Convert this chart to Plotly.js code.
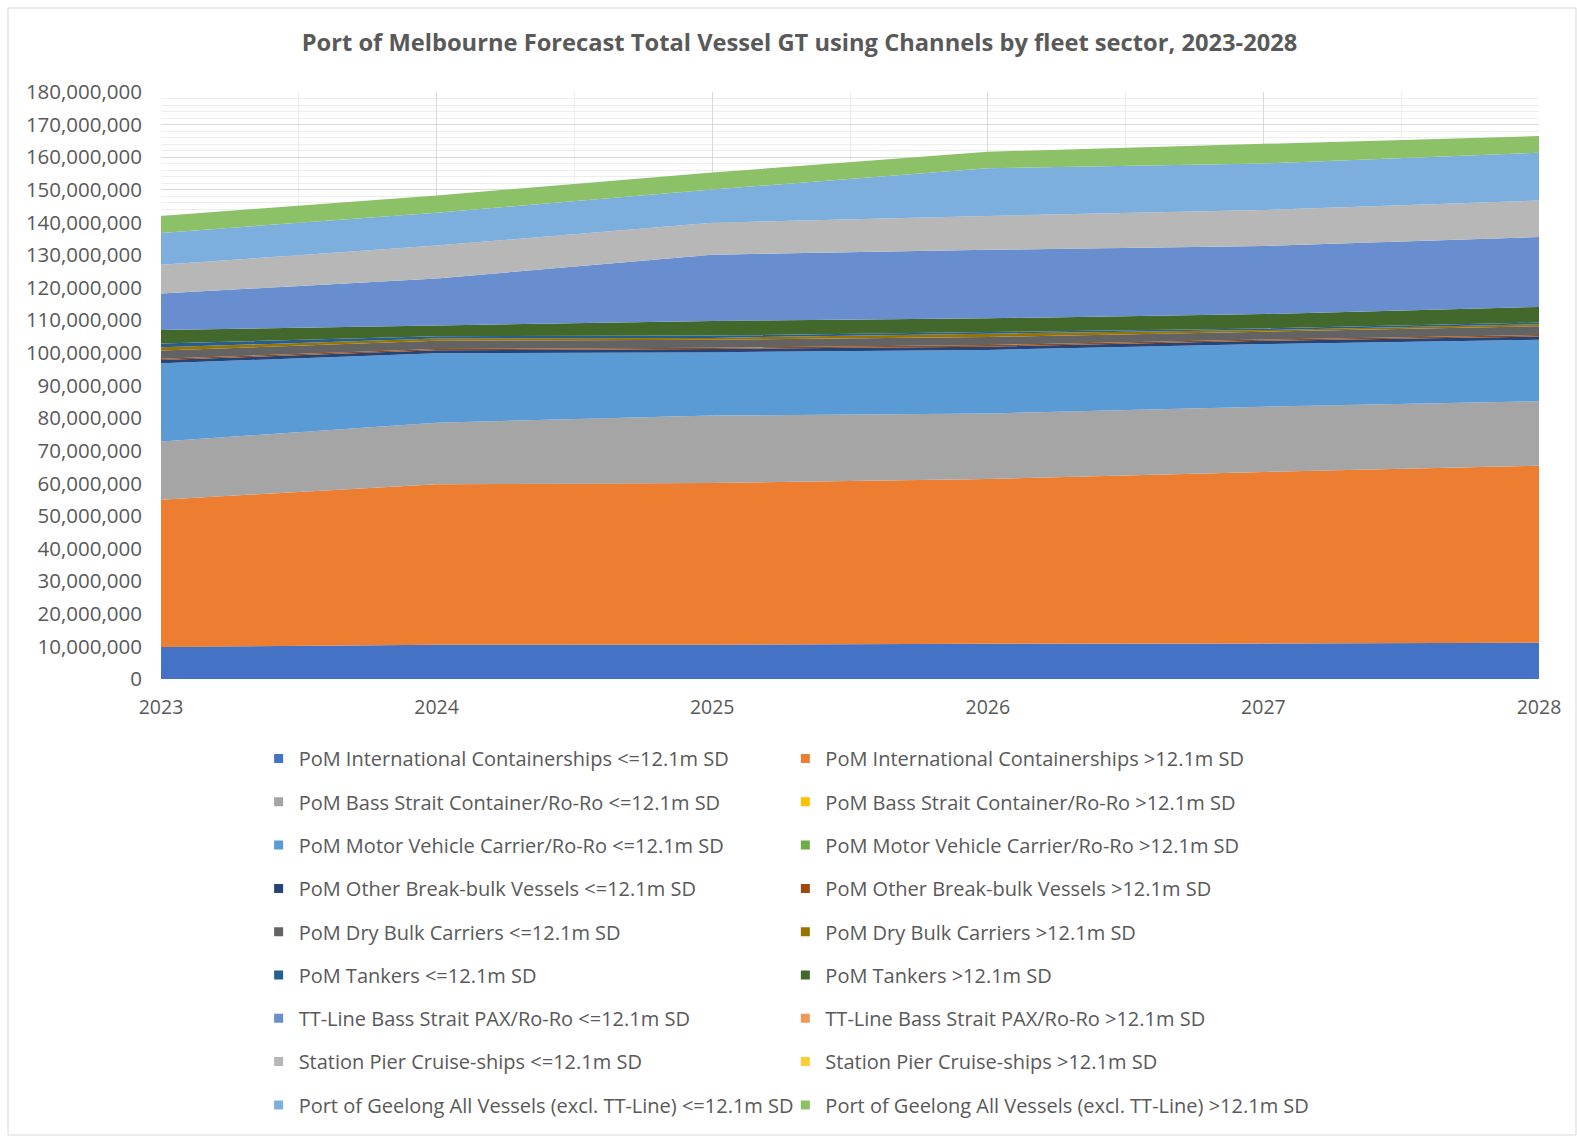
<!DOCTYPE html>
<html>
<head>
<meta charset="utf-8">
<script src="https://cdn.plot.ly/plotly-3.0.1.min.js"></script>
<style>
  html, body { margin: 0; padding: 0; background: #ffffff; }
  #chart { width: 1577px; height: 1136px; }
</style>
</head>
<body>
<div id="chart"></div>
<script>
// ---------- data ----------
const years = [2023, 2024, 2025, 2026, 2027, 2028];

const seriesNames = [
  "PoM International Containerships <=12.1m SD",
  "PoM International Containerships >12.1m SD",
  "PoM Bass Strait Container/Ro-Ro <=12.1m SD",
  "PoM Bass Strait Container/Ro-Ro >12.1m SD",
  "PoM Motor Vehicle Carrier/Ro-Ro <=12.1m SD",
  "PoM Motor Vehicle Carrier/Ro-Ro >12.1m SD",
  "PoM Other Break-bulk Vessels <=12.1m SD",
  "PoM Other Break-bulk Vessels >12.1m SD",
  "PoM Dry Bulk Carriers <=12.1m SD",
  "PoM Dry Bulk Carriers >12.1m SD",
  "PoM Tankers <=12.1m SD",
  "PoM Tankers >12.1m SD",
  "TT-Line Bass Strait PAX/Ro-Ro <=12.1m SD",
  "TT-Line Bass Strait PAX/Ro-Ro >12.1m SD",
  "Station Pier Cruise-ships <=12.1m SD",
  "Station Pier Cruise-ships >12.1m SD",
  "Port of Geelong All Vessels (excl. TT-Line) <=12.1m SD",
  "Port of Geelong All Vessels (excl. TT-Line) >12.1m SD"
];

const intlContLE  = [9800000, 10500000, 10500000, 10800000, 10900000, 11100000];
const intlContGT  = [45200000, 49200000, 49600000, 50500000, 52600000, 54300000];
const bassLE      = [17800000, 18900000, 20700000, 20100000, 20000000, 19800000];
const bassGT      = [0, 0, 0, 0, 0, 0];
const mvcLE       = [24000000, 21300000, 19400000, 19500000, 19200000, 18800000];
const mvcGT       = [0, 0, 0, 0, 0, 0];
const breakBulkLE = [1000000, 900000, 1000000, 1000000, 1000000, 1000000];
const breakBulkGT = [400000, 400000, 400000, 500000, 400000, 500000];
const dryBulkLE   = [2500000, 2500000, 2400000, 2500000, 2400000, 2700000];
const dryBulkGT   = [1000000, 700000, 600000, 1000000, 500000, 600000];
const tankersLE   = [1200000, 700000, 700000, 500000, 500000, 500000];
const tankersGT   = [4100000, 3300000, 4500000, 4200000, 4400000, 4800000];
const ttLineLE    = [11200000, 14400000, 20300000, 21000000, 20900000, 21400000];
const ttLineGT    = [0, 0, 0, 0, 0, 0];
const stationLE   = [8800000, 10100000, 9800000, 10400000, 11000000, 11200000];
const stationGT   = [0, 0, 0, 0, 0, 0];
const geelongLE   = [9800000, 10100000, 10200000, 14600000, 14300000, 14700000];
const geelongGT   = [5200000, 5300000, 5200000, 5100000, 6000000, 5100000];

const yTickVals = [0, 10000000, 20000000, 30000000, 40000000, 50000000, 60000000, 70000000, 80000000,
                   90000000, 100000000, 110000000, 120000000, 130000000, 140000000, 150000000,
                   160000000, 170000000, 180000000];

// ---------- style ----------
const seriesColors = [
  "#4472C4", "#ED7D31", "#A5A5A5", "#FFC000", "#5B9BD5", "#70AD47",
  "#264478", "#9E480E", "#636363", "#997300", "#255E91", "#43682B",
  "#698ED0", "#F1975A", "#B7B7B7", "#FFCD33", "#7CAFDD", "#8CC168"
];
const FONT = "'Open Sans', Lato, sans-serif";
const TEXT = "#595959";

const seriesValues = [
  intlContLE, intlContGT, bassLE, bassGT, mvcLE, mvcGT,
  breakBulkLE, breakBulkGT, dryBulkLE, dryBulkGT, tankersLE, tankersGT,
  ttLineLE, ttLineGT, stationLE, stationGT, geelongLE, geelongGT
];

const traces = [];
// stacked areas
seriesValues.forEach((vals, i) => {
  traces.push({
    type: "scatter",
    x: years,
    y: vals,
    name: seriesNames[i],
    stackgroup: "one",
    mode: "none",
    line: { width: 0, color: seriesColors[i] },
    fillcolor: seriesColors[i],
    showlegend: false,
    hoverinfo: "x+y+name"
  });
});
// legend entries (square swatches): left column <=12.1m, right column >12.1m
seriesValues.forEach((vals, i) => {
  traces.push({
    type: "scatter",
    x: [null],
    y: [null],
    name: seriesNames[i],
    mode: "markers",
    marker: { symbol: "square", size: 9, color: seriesColors[i] },
    legend: (i % 2 === 0) ? "legend" : "legend2",
    legendgroup: "g" + i,
    showlegend: true,
    hoverinfo: "skip"
  });
});

const legendCommon = {
  orientation: "v",
  xref: "container",
  yref: "container",
  xanchor: "left",
  yanchor: "top",
  traceorder: "grouped",
  tracegroupgap: 14.3,
  bgcolor: "rgba(0,0,0,0)",
  font: { family: FONT, size: 20, color: TEXT },
  itemclick: false,
  itemdoubleclick: false
};

const layout = {
  width: 1577,
  height: 1136,
  paper_bgcolor: "#ffffff",
  plot_bgcolor: "#ffffff",
  margin: { l: 161, r: 38, t: 92, b: 457, autoexpand: false },
  font: { family: FONT, size: 20, color: TEXT },
  title: {
    text: "Port of Melbourne Forecast Total Vessel GT using Channels by fleet sector, 2023-2028",
    font: { family: FONT, size: 23.7, color: TEXT, weight: "bold" },
    xref: "container", yref: "container",
    x: 0.507, xanchor: "center",
    y: 1 - 43 / 1136, yanchor: "middle"
  },
  xaxis: {
    type: "linear",
    range: [2023, 2028],
    tickvals: years,
    ticktext: years.map(String),
    showgrid: true,
    gridcolor: "#D9D9D9",
    gridwidth: 1,
    minor: { dtick: 0.5, showgrid: true, gridcolor: "#EDEDED", gridwidth: 1 },
    zeroline: false,
    showline: false,
    ticks: "",
    ticklabelstandoff: 14,
    tickfont: { family: FONT, size: 19.5, color: TEXT }
  },
  yaxis: {
    range: [0, 180000000],
    tickvals: yTickVals,
    tickformat: ",d",
    showgrid: true,
    gridcolor: "#D9D9D9",
    gridwidth: 1,
    minor: { dtick: 2000000, showgrid: true, gridcolor: "#EDEDED", gridwidth: 1 },
    zeroline: false,
    showline: false,
    ticks: "",
    ticklabelstandoff: 18,
    tickfont: { family: FONT, size: 20.5, color: TEXT }
  },
  legend: Object.assign({}, legendCommon, { x: 0.164, y: 1 - 739 / 1136 }),
  legend2: Object.assign({}, legendCommon, { x: 0.498, y: 1 - 739 / 1136 }),
  shapes: [
    {
      type: "rect", xref: "paper", yref: "paper",
      x0: (8 - 161) / 1378, x1: (1576 - 161) / 1378,
      y0: (679 - 1135) / 587, y1: 1 + (92 - 8) / 587,
      line: { color: "#D9D9D9", width: 1 },
      fillcolor: "rgba(0,0,0,0)",
      layer: "below"
    }
  ],
  showlegend: true
};

Plotly.newPlot("chart", traces, layout, { displayModeBar: false, responsive: false });
</script>
</body>
</html>
